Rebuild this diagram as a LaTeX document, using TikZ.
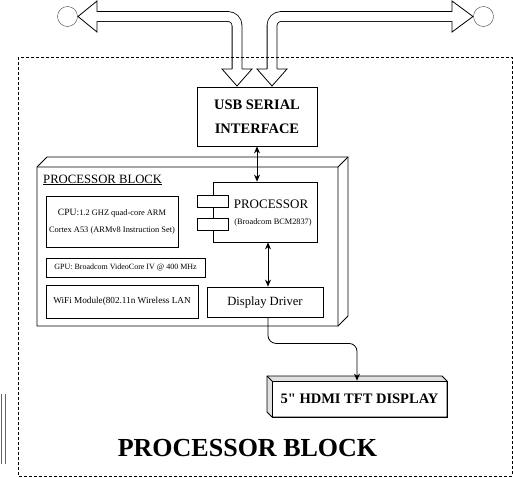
\documentclass[tikz,border=0pt]{standalone}
\usepackage{fontspec}
\setmainfont{Liberation Serif}
\newfontfamily\rawserif{Liberation Serif}
\usetikzlibrary{arrows.meta}
\tikzset{
  box/.style={draw, line width=0.8pt, fill=white, inner sep=0pt},
  fat/.style={line width=0.8pt, double=white, double distance=9pt, rounded corners=9pt},
  fathead/.style={line width=0.8pt, fill=white, line join=miter},
  conn/.style={line width=0.8pt, {Stealth[length=7pt,width=6pt]}-{Stealth[length=7pt,width=6pt]}},
  lbl/.style={inner sep=0pt}
}
\begin{document}
\begin{tikzpicture}[x=1pt,y=-1pt]
\useasboundingbox (0,0) rectangle (513,477);
% big hollow arrows
\draw[fat] (237,70) -- (237,16.5) -- (97,16.5);
\draw[fathead] (97,12) -- (97,1) -- (78,16.5) -- (97,32) -- (97,21);
\draw[fathead] (232,69) -- (222,69) -- (237,86) -- (252,69) -- (242,69);
\draw[fat] (272,70) -- (272,16.5) -- (452,16.5);
\draw[fathead] (452,12) -- (452,1) -- (473,16.5) -- (452,32) -- (452,21);
\draw[fathead] (267,69) -- (257,69) -- (272,86) -- (287,69) -- (277,69);
\node[draw=black!75, circle, minimum size=20pt, inner sep=0pt] (cl) at (67.5,16.5) {};
\node[draw=black!75, circle, minimum size=20pt, inner sep=0pt] (cr) at (483.5,16.5) {};
% USB
\node[box, minimum width=120pt, minimum height=59pt, align=center,
  font=\fontsize{14.5}{24}\selectfont\bfseries] (usb) at (257,116.5) {USB SERIAL\\INTERFACE};
% processor block cube
\draw[line width=0.8pt, fill=white] (37,167) -- (47,157) -- (348,157) -- (348,316) -- (338,326) -- (37,326) -- cycle;
\draw[line width=0.8pt] (37,167) -- (338,167) -- (338,326) (338,167) -- (348,157);
\node[lbl, anchor=base west, font=\fontsize{12.7}{14}\selectfont] (blk) at (43,183) {\underline{PROCESSOR BLOCK}};
% CPU
\node[box, minimum width=132pt, minimum height=51pt] (cpu) at (112,221.5) {};
\node[lbl, font=\fontsize{8.4}{10}\selectfont] (cpu1) at (112,213) {{\fontsize{9.6}{10}\selectfont CPU:}1.2 GHZ quad-core ARM};
\node[lbl, font=\fontsize{8.4}{10}\selectfont] (cpu2) at (112,230) {Cortex A53 (ARMv8 Instruction Set)};
% GPU
\node[box, minimum width=159pt, minimum height=19pt, font=\fontsize{8}{10}\selectfont] (gpu) at (125.5,267.5) {GPU: Broadcom VideoCore IV @ 400 MHz};
% WiFi
\node[box, minimum width=152pt, minimum height=33pt, font=\fontsize{9.2}{11}\selectfont] (wifi) at (122,301.5) {WiFi Module(802.11n Wireless LAN};
% processor
\node[box, minimum width=104pt, minimum height=60pt] (proc) at (265,212) {};
\draw[line width=0.8pt, fill=white] (197,195) rectangle (228,207);
\draw[line width=0.8pt, fill=white] (197,218) rectangle (228,230);
\node[lbl, font=\fontsize{13}{15}\selectfont] (proct) at (271,204) {PROCESSOR};
\node[lbl, font=\fontsize{8.3}{10}\selectfont] (procs) at (273,222) {(Broadcom BCM2837)};
% display driver
\node[box, minimum width=116pt, minimum height=30pt, font=\fontsize{12.6}{14}\selectfont] (dd) at (265,302) {Display Driver};
% TFT display
\fill[black!12] (267,376) -- (442,376) -- (447,381) -- (447,417) -- (272,417) -- (267,412) -- cycle;
\node[box, minimum width=175pt, minimum height=36pt, font=\fontsize{14.5}{16}\selectfont\rawserif\bfseries] (tft) at (359.5,399) {5" HDMI TFT DISPLAY};
\draw[line width=0.8pt] (267,376) -- (442,376) -- (447,381) -- (447,417) -- (272,417) -- (267,412) -- cycle;
\draw[line width=0.8pt] (267,376) -- (272,381);
% connectors
\draw[conn] (usb.south) -- (usb.south |- proc.north);
\draw[conn] ([xshift=3pt]proc.south) -- ([xshift=3pt]dd.north);
\draw[line width=0.8pt, -{Stealth[length=7pt,width=6pt]}, rounded corners=8pt]
  ([xshift=3pt]dd.south) -- ++(0,26) -| ([xshift=-2.5pt]tft.north);
% title
\node[lbl, anchor=base, font=\fontsize{26}{30}\selectfont\bfseries] (title) at (247.5,456) {PROCESSOR BLOCK};
% side lines
\draw[black!60, line width=1pt] (1.5,394) -- (1.5,464);
\draw[black!60, line width=1pt] (5,394) -- (5,464);
% dashed frame
\draw[line width=0.7pt, dash pattern=on 3pt off 2pt] (18,57) rectangle (512,476);
\end{tikzpicture}
\end{document}
